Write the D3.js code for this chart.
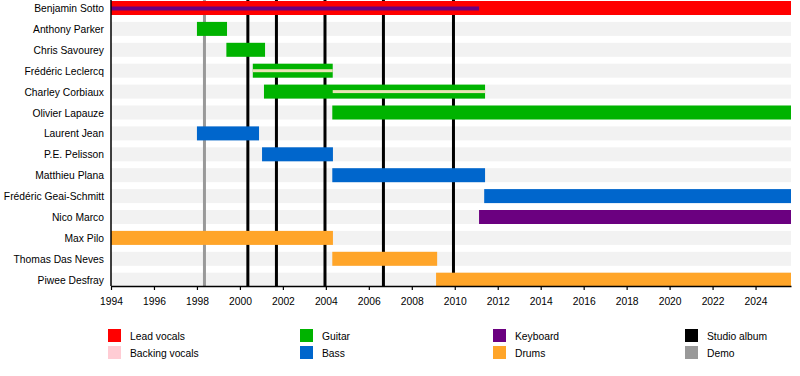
<!DOCTYPE html>
<html>
<head>
<meta charset="utf-8">
<script src="https://cdn.jsdelivr.net/npm/d3@7"></script>
<style>
  body { margin: 0; background: #fff; }
  text { font-family: "Liberation Sans", Arial, sans-serif; }
</style>
</head>
<body>
<script>
// band members, top to bottom
var members = ["Benjamin Sotto", "Anthony Parker", "Chris Savourey", "Frédéric Leclercq",
  "Charley Corbiaux", "Olivier Lapauze", "Laurent Jean", "P.E. Pelisson", "Matthieu Plana",
  "Frédéric Geai-Schmitt", "Nico Marco", "Max Pilo", "Thomas Das Neves", "Piwee Desfray"];

var roles = ["Lead vocals", "Backing vocals", "Guitar", "Bass", "Keyboard", "Drums"];
var roleColors = ["#ff0000", "#ffccd4", "#00b300", "#0066cc", "#6b0080", "#ffa529"];

var endDate = 2025.65;

// main bars: [member, role, start, end]
var tenures = [
  ["Benjamin Sotto", "Lead vocals", 1994, endDate],
  ["Anthony Parker", "Guitar", 1998.0, 1999.4],
  ["Chris Savourey", "Guitar", 1999.37, 2001.17],
  ["Frédéric Leclercq", "Guitar", 2000.6, 2004.32],
  ["Charley Corbiaux", "Guitar", 2001.12, 2011.41],
  ["Olivier Lapauze", "Guitar", 2004.3, endDate],
  ["Laurent Jean", "Bass", 1998.0, 2000.89],
  ["P.E. Pelisson", "Bass", 2001.03, 2004.33],
  ["Matthieu Plana", "Bass", 2004.3, 2011.41],
  ["Frédéric Geai-Schmitt", "Bass", 2011.37, endDate],
  ["Nico Marco", "Keyboard", 2011.13, endDate],
  ["Max Pilo", "Drums", 1994, 2004.33],
  ["Thomas Das Neves", "Drums", 2004.3, 2009.18],
  ["Piwee Desfray", "Drums", 2009.13, endDate]
];

// secondary roles drawn as thin lines inside the bar
var secondary = [
  ["Benjamin Sotto", "Keyboard", 1994, 2011.13],
  ["Frédéric Leclercq", "Backing vocals", 2000.6, 2004.32],
  ["Charley Corbiaux", "Backing vocals", 2004.32, 2011.41]
];

var studioAlbums = [2000.37, 2001.7, 2003.96, 2006.68, 2009.94];
var demos = [1998.35];

var yearTicks = [1994, 1996, 1998, 2000, 2002, 2004, 2006, 2008, 2010,
  2012, 2014, 2016, 2018, 2020, 2022, 2024];

var legendItems = [
  ["Lead vocals", "#ff0000"], ["Backing vocals", "#ffccd4"],
  ["Guitar", "#00b300"], ["Bass", "#0066cc"],
  ["Keyboard", "#6b0080"], ["Drums", "#ffa529"],
  ["Studio album", "#000000"], ["Demo", "#999999"]
];

var width = 800, height = 376;
var axisY = 286;
var barH = 14;

var color = d3.scaleOrdinal().domain(roles).range(roleColors);

var x = d3.scaleLinear().domain([1994, endDate]).range([111, 791]);
var y = d3.scalePoint().domain(members).range([8, 279.7]);

var svg = d3.select("body").append("svg")
    .attr("width", width)
    .attr("height", height);

// row stripes
svg.append("g")
    .selectAll("rect")
    .data(members)
    .enter().append("rect")
    .attr("x", x(1994))
    .attr("width", x(endDate) - x(1994))
    .attr("y", function(d) { return y(d) - barH / 2; })
    .attr("height", barH)
    .attr("fill", "#f2f2f2");

// demo and album markers
svg.append("g")
    .selectAll("line")
    .data(demos)
    .enter().append("line")
    .attr("x1", function(d) { return x(d); })
    .attr("x2", function(d) { return x(d); })
    .attr("y1", 0)
    .attr("y2", axisY)
    .attr("stroke", "#999999")
    .attr("stroke-width", 3);

svg.append("g")
    .selectAll("line")
    .data(studioAlbums)
    .enter().append("line")
    .attr("x1", function(d) { return x(d); })
    .attr("x2", function(d) { return x(d); })
    .attr("y1", 0)
    .attr("y2", axisY)
    .attr("stroke", "#000")
    .attr("stroke-width", 3);

// bars
svg.append("g")
    .selectAll("rect")
    .data(tenures)
    .enter().append("rect")
    .attr("x", function(d) { return x(d[2]); })
    .attr("width", function(d) { return x(d[3]) - x(d[2]); })
    .attr("y", function(d) { return y(d[0]) - barH / 2; })
    .attr("height", barH)
    .attr("fill", function(d) { return color(d[1]); });

svg.append("g")
    .selectAll("rect")
    .data(secondary)
    .enter().append("rect")
    .attr("x", function(d) { return x(d[2]); })
    .attr("width", function(d) { return x(d[3]) - x(d[2]); })
    .attr("y", function(d) { return y(d[0]) - 1.5; })
    .attr("height", function(d) { return d[1] == "Keyboard" ? 4 : 3; })
    .attr("fill", function(d) { return d[1] == "Backing vocals" ? "#e9e4b6" : color(d[1]); });

// names
svg.append("g")
    .selectAll("text")
    .data(members)
    .enter().append("text")
    .attr("x", 104)
    .attr("y", function(d) { return y(d) + 4; })
    .attr("text-anchor", "end")
    .attr("font-size", 10.3)
    .attr("fill", "#000")
    .text(function(d) { return d; });

// axes
var axis = svg.append("g")
    .attr("transform", "translate(0," + axisY + ")")
    .call(d3.axisBottom(x).tickValues(yearTicks).tickFormat(d3.format("d"))
      .tickSize(4).tickSizeOuter(0).tickPadding(8));
axis.select(".domain").attr("stroke-width", 1.5);
axis.selectAll(".tick line").attr("stroke-width", 1.2);
axis.selectAll("text")
    .attr("font-family", "'Liberation Sans', Arial, sans-serif")
    .attr("font-size", 10.3)
    .attr("fill", "#000");

svg.append("line")
    .attr("x1", x(1994)).attr("x2", x(1994))
    .attr("y1", 0).attr("y2", axisY)
    .attr("stroke", "#000")
    .attr("stroke-width", 1.5);

// legend, 4 columns x 2 rows
var legendX = [108, 300, 493, 685];
var legend = svg.append("g")
    .selectAll("g")
    .data(legendItems)
    .enter().append("g")
    .attr("transform", function(d, i) {
      return "translate(" + legendX[Math.floor(i / 2)] + "," + (329 + (i % 2) * 17) + ")";
    });
legend.append("rect")
    .attr("width", 13)
    .attr("height", 13)
    .attr("fill", function(d) { return d[1]; });
legend.append("text")
    .attr("x", 22)
    .attr("y", 11)
    .attr("font-size", 10.3)
    .attr("fill", "#000")
    .text(function(d) { return d[0]; });
</script>
</body>
</html>
